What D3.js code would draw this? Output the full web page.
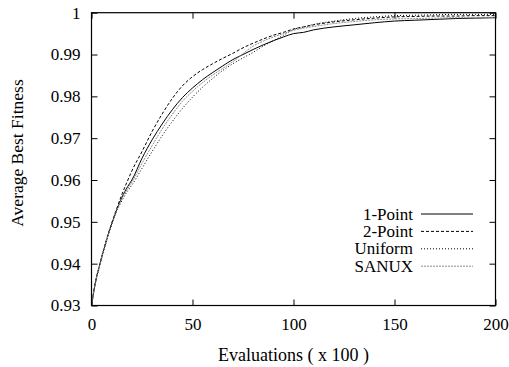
<!DOCTYPE html>
<html><head><meta charset="utf-8">
<script src="https://cdn.jsdelivr.net/npm/d3@7"></script>
</head><body style="margin:0">
<script>
// ---- data ----
const evals = [0,2,4,6,8,10,12,15,18,20,25,30,35,40,45,50,55,60,65,70,75,80,85,90,95,100,105,110,120,130,140,150,160,170,180,190,200];
const onePoint = [0.93,0.9356,0.9396,0.9432,0.9465,0.9495,0.9522,0.9558,0.9585,0.9600,0.9652,0.9696,0.9734,0.9768,0.9797,0.9820,0.9840,0.9857,0.9873,0.9888,0.9900,0.9912,0.9923,0.9933,0.9942,0.9950,0.9953,0.9959,0.9966,0.9971,0.9976,0.9980,0.9982,0.9984,0.9986,0.9987,0.9988];
const twoPoint = [0.93,0.9357,0.9397,0.9433,0.9467,0.9497,0.9525,0.9565,0.9600,0.9622,0.9668,0.9716,0.9758,0.9795,0.9825,0.9847,0.9864,0.9878,0.9891,0.9903,0.9916,0.9927,0.9937,0.9946,0.9953,0.9961,0.9966,0.9971,0.9978,0.9983,0.9987,0.9990,0.9991,0.9992,0.9992,0.9993,0.9993];
const uniform = [0.93,0.9355,0.9394,0.9430,0.9463,0.9493,0.9520,0.9550,0.9575,0.9588,0.9628,0.9668,0.9706,0.9740,0.9771,0.9798,0.9822,0.9843,0.9862,0.9878,0.9892,0.9905,0.9920,0.9933,0.9946,0.9960,0.9966,0.9972,0.9980,0.9986,0.9990,0.9993,0.9994,0.9995,0.9996,0.9996,0.9996];
const sanux = [0.93,0.9355,0.9395,0.9431,0.9464,0.9494,0.9521,0.9555,0.9580,0.9595,0.9640,0.9682,0.9722,0.9757,0.9788,0.9812,0.9833,0.9851,0.9867,0.9883,0.9902,0.9920,0.9932,0.9942,0.9950,0.9958,0.9963,0.9967,0.9974,0.9979,0.9983,0.9985,0.9986,0.9987,0.9988,0.9988,0.9989];
const seriesNames = ["1-Point","2-Point","Uniform","SANUX"];
const xTicks = [0,50,100,150,200];
const yTicks = [0.93,0.94,0.95,0.96,0.97,0.98,0.99,1];

const W = 509, H = 367;
const m = {left:91.5, right:13.5, top:12.7, bottom:61.5};
const svg = d3.select("body").append("svg").attr("width",W).attr("height",H).style("display","block");
const x = d3.scaleLinear().domain([0,200]).range([m.left, W-m.right]);
const y = d3.scaleLinear().domain([0.93,1]).range([H-m.bottom, m.top]);
function setFont(sel, size){
  return sel.attr("font-family","Liberation Serif").style("font-family",'"Liberation Serif"')
    .style("font-size",(size||17)+"px").attr("fill","#000");
}

const styles = [
  {stroke:"#000", dash:null, data:onePoint},
  {stroke:"#000", dash:"3,2", data:twoPoint},
  {stroke:"#000", dash:"1,2", data:uniform},
  {stroke:"#8c8c8c", dash:"2,1", data:sanux}
];

// axes with inward ticks
const tl = 6;
const gx = svg.append("g").attr("transform",`translate(0,${H-m.bottom})`)
  .call(d3.axisBottom(x).tickValues(xTicks).tickSizeInner(-tl).tickSizeOuter(0).tickPadding(12).tickFormat(d3.format("d")));
const gxt = svg.append("g").attr("transform",`translate(0,${m.top})`)
  .call(d3.axisTop(x).tickValues(xTicks).tickSizeInner(-tl).tickSizeOuter(0).tickFormat(""));
const gy = svg.append("g").attr("transform",`translate(${m.left},0)`)
  .call(d3.axisLeft(y).tickValues(yTicks).tickSizeInner(-tl).tickSizeOuter(0).tickPadding(11).tickFormat(d=>d===1?"1":d3.format(".2f")(d)));
const gyr = svg.append("g").attr("transform",`translate(${W-m.right},0)`)
  .call(d3.axisRight(y).tickValues(yTicks).tickSizeInner(-tl).tickSizeOuter(0).tickFormat(""));
[gx,gxt,gy,gyr].forEach(g=>{
  g.attr("font-family","Liberation Serif").attr("font-size",17);
  g.select(".domain").remove();
  g.selectAll("line").attr("stroke","#000").attr("stroke-width",1);
  setFont(g.selectAll("text"));
});

// curves
const line = d3.line().x((d,i)=>x(evals[i])).y(d=>y(d)).curve(d3.curveMonotoneX);
styles.forEach(s=>{
  svg.append("path").datum(s.data).attr("d",line).attr("fill","none")
    .attr("stroke",s.stroke).attr("stroke-width",1)
    .attr("stroke-dasharray",s.dash);
});

// frame
svg.append("rect").attr("x",m.left).attr("y",m.top)
  .attr("width",W-m.right-m.left).attr("height",H-m.bottom-m.top)
  .attr("fill","none").attr("stroke","#000").attr("stroke-width",1.2);

// legend
const lg = svg.append("g");
seriesNames.forEach((n,i)=>{
  const yy = 214 + i*17.4;
  setFont(lg.append("text").attr("x",413).attr("y",yy).attr("dy","0.33em").attr("text-anchor","end")).text(n);
  lg.append("line").attr("x1",421).attr("x2",473).attr("y1",yy).attr("y2",yy)
    .attr("stroke",styles[i].stroke).attr("stroke-width",1).attr("stroke-dasharray",styles[i].dash);
});

// axis titles
setFont(svg.append("text").attr("x",(m.left+W-m.right)/2).attr("y",361).attr("text-anchor","middle"),18).text("Evaluations ( x 100 )");
setFont(svg.append("text").attr("transform",`translate(23,153) rotate(-90)`).attr("text-anchor","middle"),17.5).text("Average Best Fitness");
</script>
</body></html>
